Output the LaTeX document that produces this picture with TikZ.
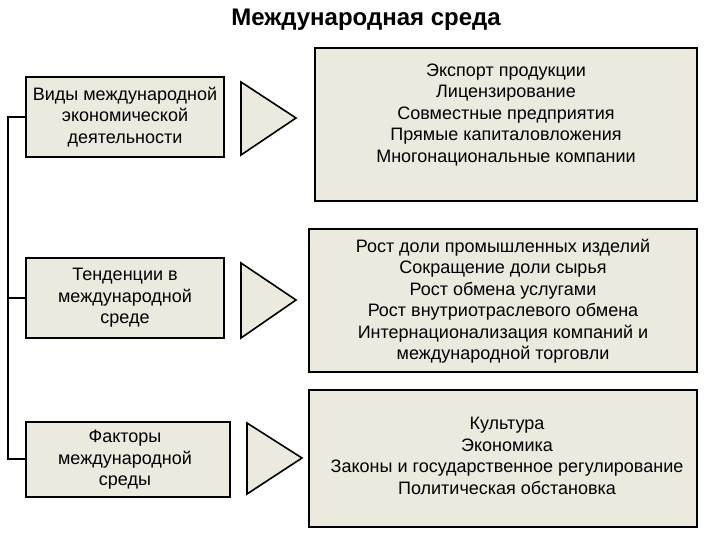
\documentclass[tikz,border=0pt]{standalone}
\usepackage{fontspec}
\setmainfont{Liberation Sans}
\begin{document}
\begin{tikzpicture}[x=1pt,y=-1pt,
  box/.style={draw=black,line width=1.6pt,fill=boxfill},
  txt/.style={align=center,font=\fontsize{18}{21.5}\selectfont,inner sep=0pt},
  tri/.style={draw=black,line width=1.6pt,fill=boxfill,line join=miter}]
\definecolor{boxfill}{RGB}{236,233,223}
\useasboundingbox (0,0) rectangle (720,540);
\node[font=\bfseries\fontsize{24}{28}\selectfont] (title) at (366,20) {Международная среда};
% left boxes
\draw[box] (26,77) rectangle (224,157);
\node[txt] (l1) at (125,117) {Виды международной\\экономической\\деятельности};
\draw[box] (26,258) rectangle (224,338);
\node[txt] (l2) at (125,298) {Тенденции в\\международной\\среде};
\draw[box] (26,422) rectangle (230,497);
\node[txt] (l3) at (125,460) {Факторы\\международной\\среды};
% bracket
\coordinate (b1) at (26,117); \coordinate (b2) at (26,298); \coordinate (b3) at (26,459);
\draw[line width=1.6pt] (b1) -- (8,117) -- (8,459) -- (b3);
\draw[line width=1.6pt] (8,298) -- (b2);
% triangles
\draw[tri] (241,82) -- (296,118) -- (241,155) -- cycle;
\draw[tri] (241,263) -- (296,300) -- (241,338) -- cycle;
\draw[tri] (247,423) -- (302,458) -- (247,494) -- cycle;
% right boxes
\draw[box] (315,48) rectangle (697,201);
\node[txt] (r1) at (506,115) {Экспорт продукции\\Лицензирование\\Совместные предприятия\\Прямые капиталовложения\\Многонациональные компании};
\draw[box] (309,229) rectangle (697,372);
\node[txt] (r2) at (503,301) {Рост доли промышленных изделий\\Сокращение доли сырья\\Рост обмена услугами\\Рост внутриотраслевого обмена\\Интернационализация компаний и\\международной торговли};
\draw[box] (309,390) rectangle (697,527);
\node[txt] (r3) at (507,456) {Культура\\Экономика\\Законы и государственное регулирование\\Политическая обстановка};
\end{tikzpicture}
\end{document}
